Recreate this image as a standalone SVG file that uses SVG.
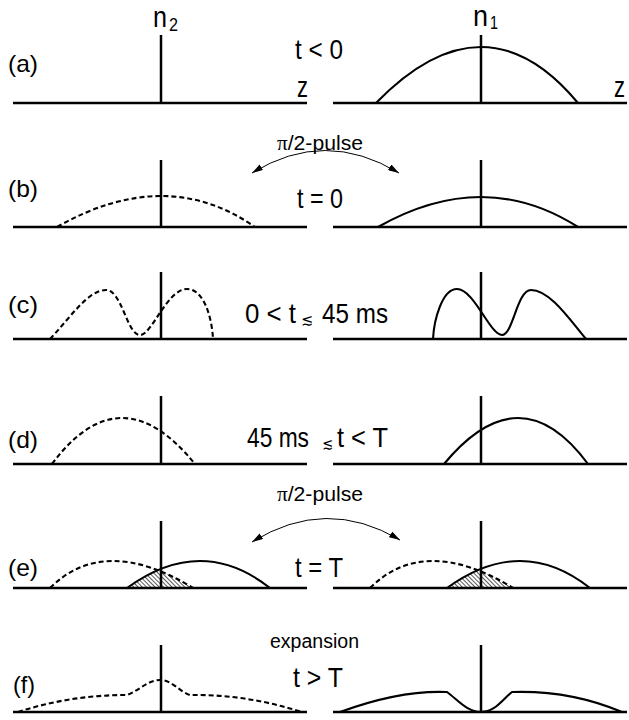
<svg xmlns="http://www.w3.org/2000/svg" width="629" height="720" viewBox="0 0 629 720">
<style>
.ax{stroke:#000;stroke-width:2.5;fill:none}
.cv{stroke:#000;stroke-width:2.1;fill:none}
.dc{stroke:#000;stroke-width:2.1;fill:none;stroke-dasharray:5 3}
.ar{stroke:#000;stroke-width:1;fill:none;marker-start:url(#ah);marker-end:url(#ah)}
text{font-family:"Liberation Sans",Arial,sans-serif;fill:#000}
.lb{font-size:24px}
.tl{font-size:28px}
.sm{font-size:20px}
.nz{font-size:29px}
.sub{font-size:18px}
.sym{font-size:16px;font-family:"DejaVu Sans",sans-serif}
</style>
<defs>
<marker id="ah" viewBox="0 0 10 6" refX="10" refY="3" markerWidth="11" markerHeight="6.6" markerUnits="userSpaceOnUse" orient="auto-start-reverse">
<path d="M0,0 L10,3 L0,6 Z" fill="#000"/>
</marker>
<pattern id="hatch" width="3" height="3" patternUnits="userSpaceOnUse" patternTransform="rotate(-45)">
<line x1="0" y1="0" x2="0" y2="3" stroke="#000" stroke-width="1.3"/>
</pattern>
<clipPath id="clipE" clipPathUnits="userSpaceOnUse">
<path d="M50,588 Q104.5,534 193,588 Z"/>
</clipPath>
</defs>

<g id="header">
<text class="nz" x="153" y="27" textLength="14" lengthAdjust="spacingAndGlyphs">n</text>
<text class="sub" x="169" y="31" textLength="9" lengthAdjust="spacingAndGlyphs">2</text>
<text class="nz" x="473" y="26" textLength="15" lengthAdjust="spacingAndGlyphs">n</text>
<text class="sub" x="490" y="29" textLength="8" lengthAdjust="spacingAndGlyphs">1</text>
</g>

<g id="panel-a">
<text class="lb" x="8" y="72" textLength="30" lengthAdjust="spacingAndGlyphs">(a)</text>
<line class="ax" x1="13" y1="103" x2="307" y2="103"/>
<line class="ax" x1="161" y1="35" x2="161" y2="103"/>
<text class="nz" x="297" y="97" textLength="11" lengthAdjust="spacingAndGlyphs">z</text>
<text class="tl" x="295" y="59" textLength="48" lengthAdjust="spacingAndGlyphs">t &lt; 0</text>
<line class="ax" x1="333" y1="103" x2="627" y2="103"/>
<line class="ax" x1="481" y1="35" x2="481" y2="103"/>
<path class="cv" d="M376,103 Q485,-9 578,103"/>
<text class="nz" x="614" y="97" textLength="11" lengthAdjust="spacingAndGlyphs">z</text>
</g>

<g id="panel-b">
<text class="lb" x="8" y="197" textLength="30" lengthAdjust="spacingAndGlyphs">(b)</text>
<text class="sm" x="277" y="150" textLength="86" lengthAdjust="spacingAndGlyphs"><tspan font-family="Liberation Serif,serif">π</tspan>/2-pulse</text>
<line class="ax" x1="13" y1="227" x2="307" y2="227"/>
<line class="ax" x1="161" y1="160" x2="161" y2="227"/>
<path class="dc" d="M57,227 Q166,165 255,227"/>
<text class="tl" x="297" y="208" textLength="46" lengthAdjust="spacingAndGlyphs">t = 0</text>
<line class="ax" x1="333" y1="227" x2="627" y2="227"/>
<line class="ax" x1="481" y1="160" x2="481" y2="227"/>
<path class="cv" d="M378,227 Q484,167 578,227"/>
</g>

<g id="panel-c">
<text class="lb" x="8" y="313" textLength="30" lengthAdjust="spacingAndGlyphs">(c)</text>
<line class="ax" x1="13" y1="339" x2="307" y2="339"/>
<line class="ax" x1="161" y1="272" x2="161" y2="339"/>
<path class="dc" d="M50,339 C70,318 88,290 106,290 C122,290 127,335 140,335 C152,335 167,289 187,289 C204,289 212,318 213,339"/>
<text class="tl" x="245" y="323" textLength="51" lengthAdjust="spacingAndGlyphs">0 &lt; t</text>
<text class="sym" x="301" y="325" textLength="12" lengthAdjust="spacingAndGlyphs">≲</text>
<text class="tl" x="322" y="323" textLength="66" lengthAdjust="spacingAndGlyphs">45 ms</text>
<line class="ax" x1="333" y1="339" x2="627" y2="339"/>
<line class="ax" x1="481" y1="272" x2="481" y2="339"/>
<path class="cv" d="M433,339 C434,320 442,289 457,289 C474,289 490,335 502,335 C513,335 517,290 531,290 C550,290 570,320 586,339"/>
</g>

<g id="panel-d">
<text class="lb" x="8" y="448" textLength="30" lengthAdjust="spacingAndGlyphs">(d)</text>
<line class="ax" x1="13" y1="464" x2="307" y2="464"/>
<line class="ax" x1="161" y1="396" x2="161" y2="464"/>
<path class="dc" d="M52,464 Q120.5,372 195,464"/>
<text class="tl" x="247" y="447" textLength="62" lengthAdjust="spacingAndGlyphs">45 ms</text>
<text class="sym" x="322" y="449" textLength="11" lengthAdjust="spacingAndGlyphs">≲</text>
<text class="tl" x="337" y="447" textLength="51" lengthAdjust="spacingAndGlyphs">t &lt; T</text>
<line class="ax" x1="333" y1="464" x2="627" y2="464"/>
<line class="ax" x1="481" y1="396" x2="481" y2="464"/>
<path class="cv" d="M444,464 Q520,372 588,464"/>
</g>

<g id="panel-e">
<text class="lb" x="8" y="576" textLength="30" lengthAdjust="spacingAndGlyphs">(e)</text>
<text class="sm" x="277" y="501" textLength="86" lengthAdjust="spacingAndGlyphs"><tspan font-family="Liberation Serif,serif">π</tspan>/2-pulse</text>
<line class="ax" x1="13" y1="588" x2="307" y2="588"/>
<line class="ax" x1="333" y1="588" x2="627" y2="588"/>
<text class="tl" x="295" y="577" textLength="48" lengthAdjust="spacingAndGlyphs">t = T</text>
<g id="e-left">
<path d="M127,588 Q201.5,534 270,588 Z" fill="url(#hatch)" clip-path="url(#clipE)"/>
<path class="dc" d="M50,588 Q104.5,534 193,588"/>
<path class="cv" d="M127,588 Q201.5,534 270,588"/>
<line class="ax" x1="161" y1="521" x2="161" y2="588"/>
</g>
<g id="e-right" transform="translate(320,0)">
<path d="M127,588 Q201.5,534 270,588 Z" fill="url(#hatch)" clip-path="url(#clipE)"/>
<path class="dc" d="M50,588 Q104.5,534 193,588"/>
<path class="cv" d="M127,588 Q201.5,534 270,588"/>
<line class="ax" x1="161" y1="521" x2="161" y2="588"/>
</g>
</g>

<g id="panel-f">
<text class="lb" x="13" y="693" textLength="22" lengthAdjust="spacingAndGlyphs">(f)</text>
<text class="sm" x="270" y="648" textLength="89" lengthAdjust="spacingAndGlyphs">expansion</text>
<line class="ax" x1="13" y1="712" x2="307" y2="712"/>
<line class="ax" x1="161" y1="645" x2="161" y2="712"/>
<path class="dc" d="M18,712 Q70,695 127,695 C140,690 148,680 160,680 C172,680 180,692 190,695 Q245,694 302,712"/>
<text class="tl" x="293" y="687" textLength="50" lengthAdjust="spacingAndGlyphs">t &gt; T</text>
<line class="ax" x1="333" y1="712" x2="627" y2="712"/>
<line class="ax" x1="481" y1="645" x2="481" y2="712"/>
<path class="cv" d="M340,712 Q400,690 447,692 C458,700 467,712 481,712 C495,712 502,700 512,692 Q570,690 622,712"/>
</g>

<g id="connectors">
<path class="ar" d="M252,173 Q325,128 399,173"/>
<path class="ar" d="M252,542 Q326,496 400,540"/>
</g>
</svg>
